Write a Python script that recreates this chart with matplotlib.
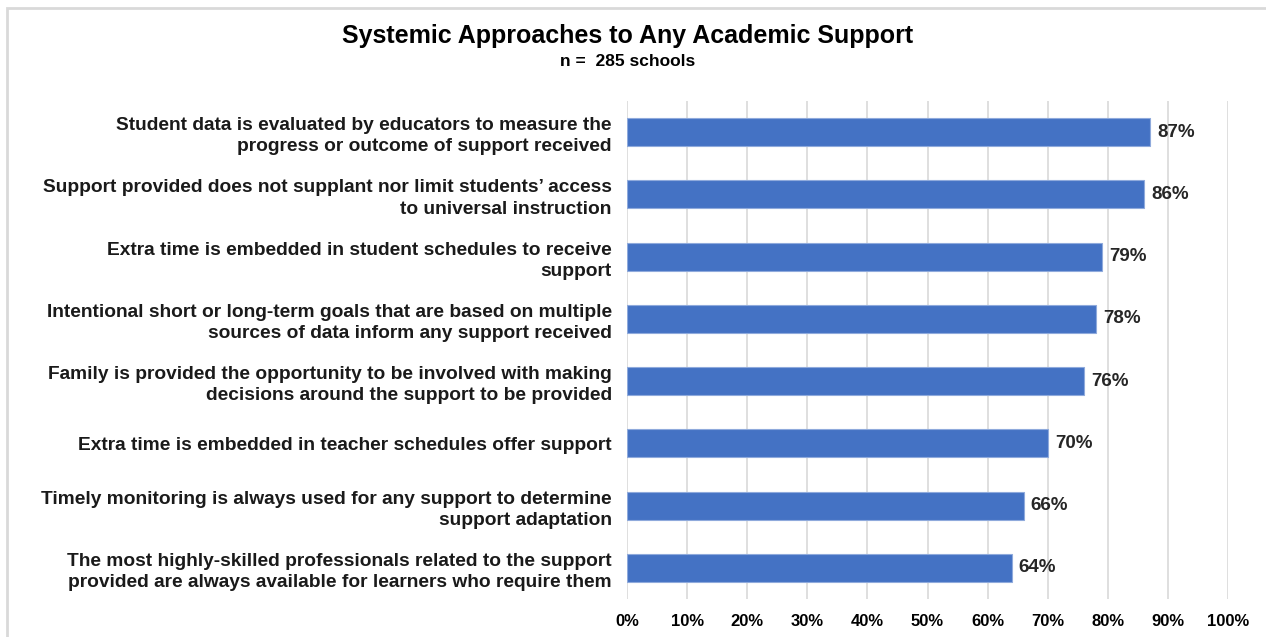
import matplotlib.pyplot as plt
from matplotlib.patches import Rectangle
from matplotlib.ticker import FuncFormatter, MultipleLocator

categories = [
    "Student data is evaluated by educators to measure the\nprogress or outcome of support received",
    "Support provided does not supplant nor limit students\u2019 access\nto universal instruction",
    "Extra time is embedded in student schedules to receive\nsupport",
    "Intentional short or long-term goals that are based on multiple\nsources of data inform any support received",
    "Family is provided the opportunity to be involved with making\ndecisions around the support to be provided",
    "Extra time is embedded in teacher schedules offer support",
    "Timely monitoring is always used for any support to determine\nsupport adaptation",
    "The most highly-skilled professionals related to the support\nprovided are always available for learners who require them",
]
values = [87, 86, 79, 78, 76, 70, 66, 64]
title = "Systemic Approaches to Any Academic Support"
subtitle = "n =  285 schools"

W, H = 1266, 637
fig = plt.figure(figsize=(W / 100, H / 100), dpi=100)
fig.patch.set_facecolor("white")

# outer chart frame
fig.patches.append(Rectangle((7 / W, -0.05), 1.1, (H - 7.5) / H + 0.05,
                             transform=fig.transFigure, fill=False,
                             edgecolor="#d9d9d9", linewidth=2))

left, right = 627 / W, 1228 / W
top, bottom = 1 - 101 / H, 1 - 599 / H
ax = fig.add_axes([left, bottom, right - left, top - bottom])

y = list(range(len(categories)))
ax.barh(y, values, height=0.45, color="#4472c4", edgecolor="#8faadc",
        linewidth=0.8, zorder=3)
for yi, v in zip(y, values):
    ax.text(v + 1.2, yi, f"{v}%", va="center", ha="left",
            fontsize=13.5, fontweight="bold", color="#262626",
            family="Liberation Sans")

ax.set_xlim(0, 100)
ax.set_ylim(len(categories) - 0.5, -0.5)
ax.xaxis.set_major_locator(MultipleLocator(10))
ax.xaxis.set_major_formatter(FuncFormatter(lambda x, p: f"{int(round(x))}%"))
ax.grid(axis="x", color="#d9d9d9", linewidth=1.2, zorder=0)
ax.set_yticks(y)
ax.set_yticklabels(categories, fontsize=13.8, fontweight="bold",
                   family="Liberation Sans", linespacing=1.32,
                   color="#1a1a1a")
for lab in ax.get_xticklabels():
    lab.set_fontsize(12)
    lab.set_fontweight("bold")
    lab.set_family("Liberation Sans")
ax.tick_params(axis="y", length=0, pad=11)
ax.tick_params(axis="x", length=0, pad=11, colors="#000000")
for s in ax.spines.values():
    s.set_visible(False)

fig.text(628 / W, 1 - 36 / H, title, ha="center", va="center",
         fontsize=18, fontweight="bold",
         family=["Liberation Sans Narrow", "Liberation Sans"])
fig.text(628 / W, 1 - 61 / H, subtitle, ha="center", va="center",
         fontsize=12.5, fontweight="bold",
         family=["Liberation Sans Narrow", "Liberation Sans"])

fig.savefig("out.png", dpi=100)
